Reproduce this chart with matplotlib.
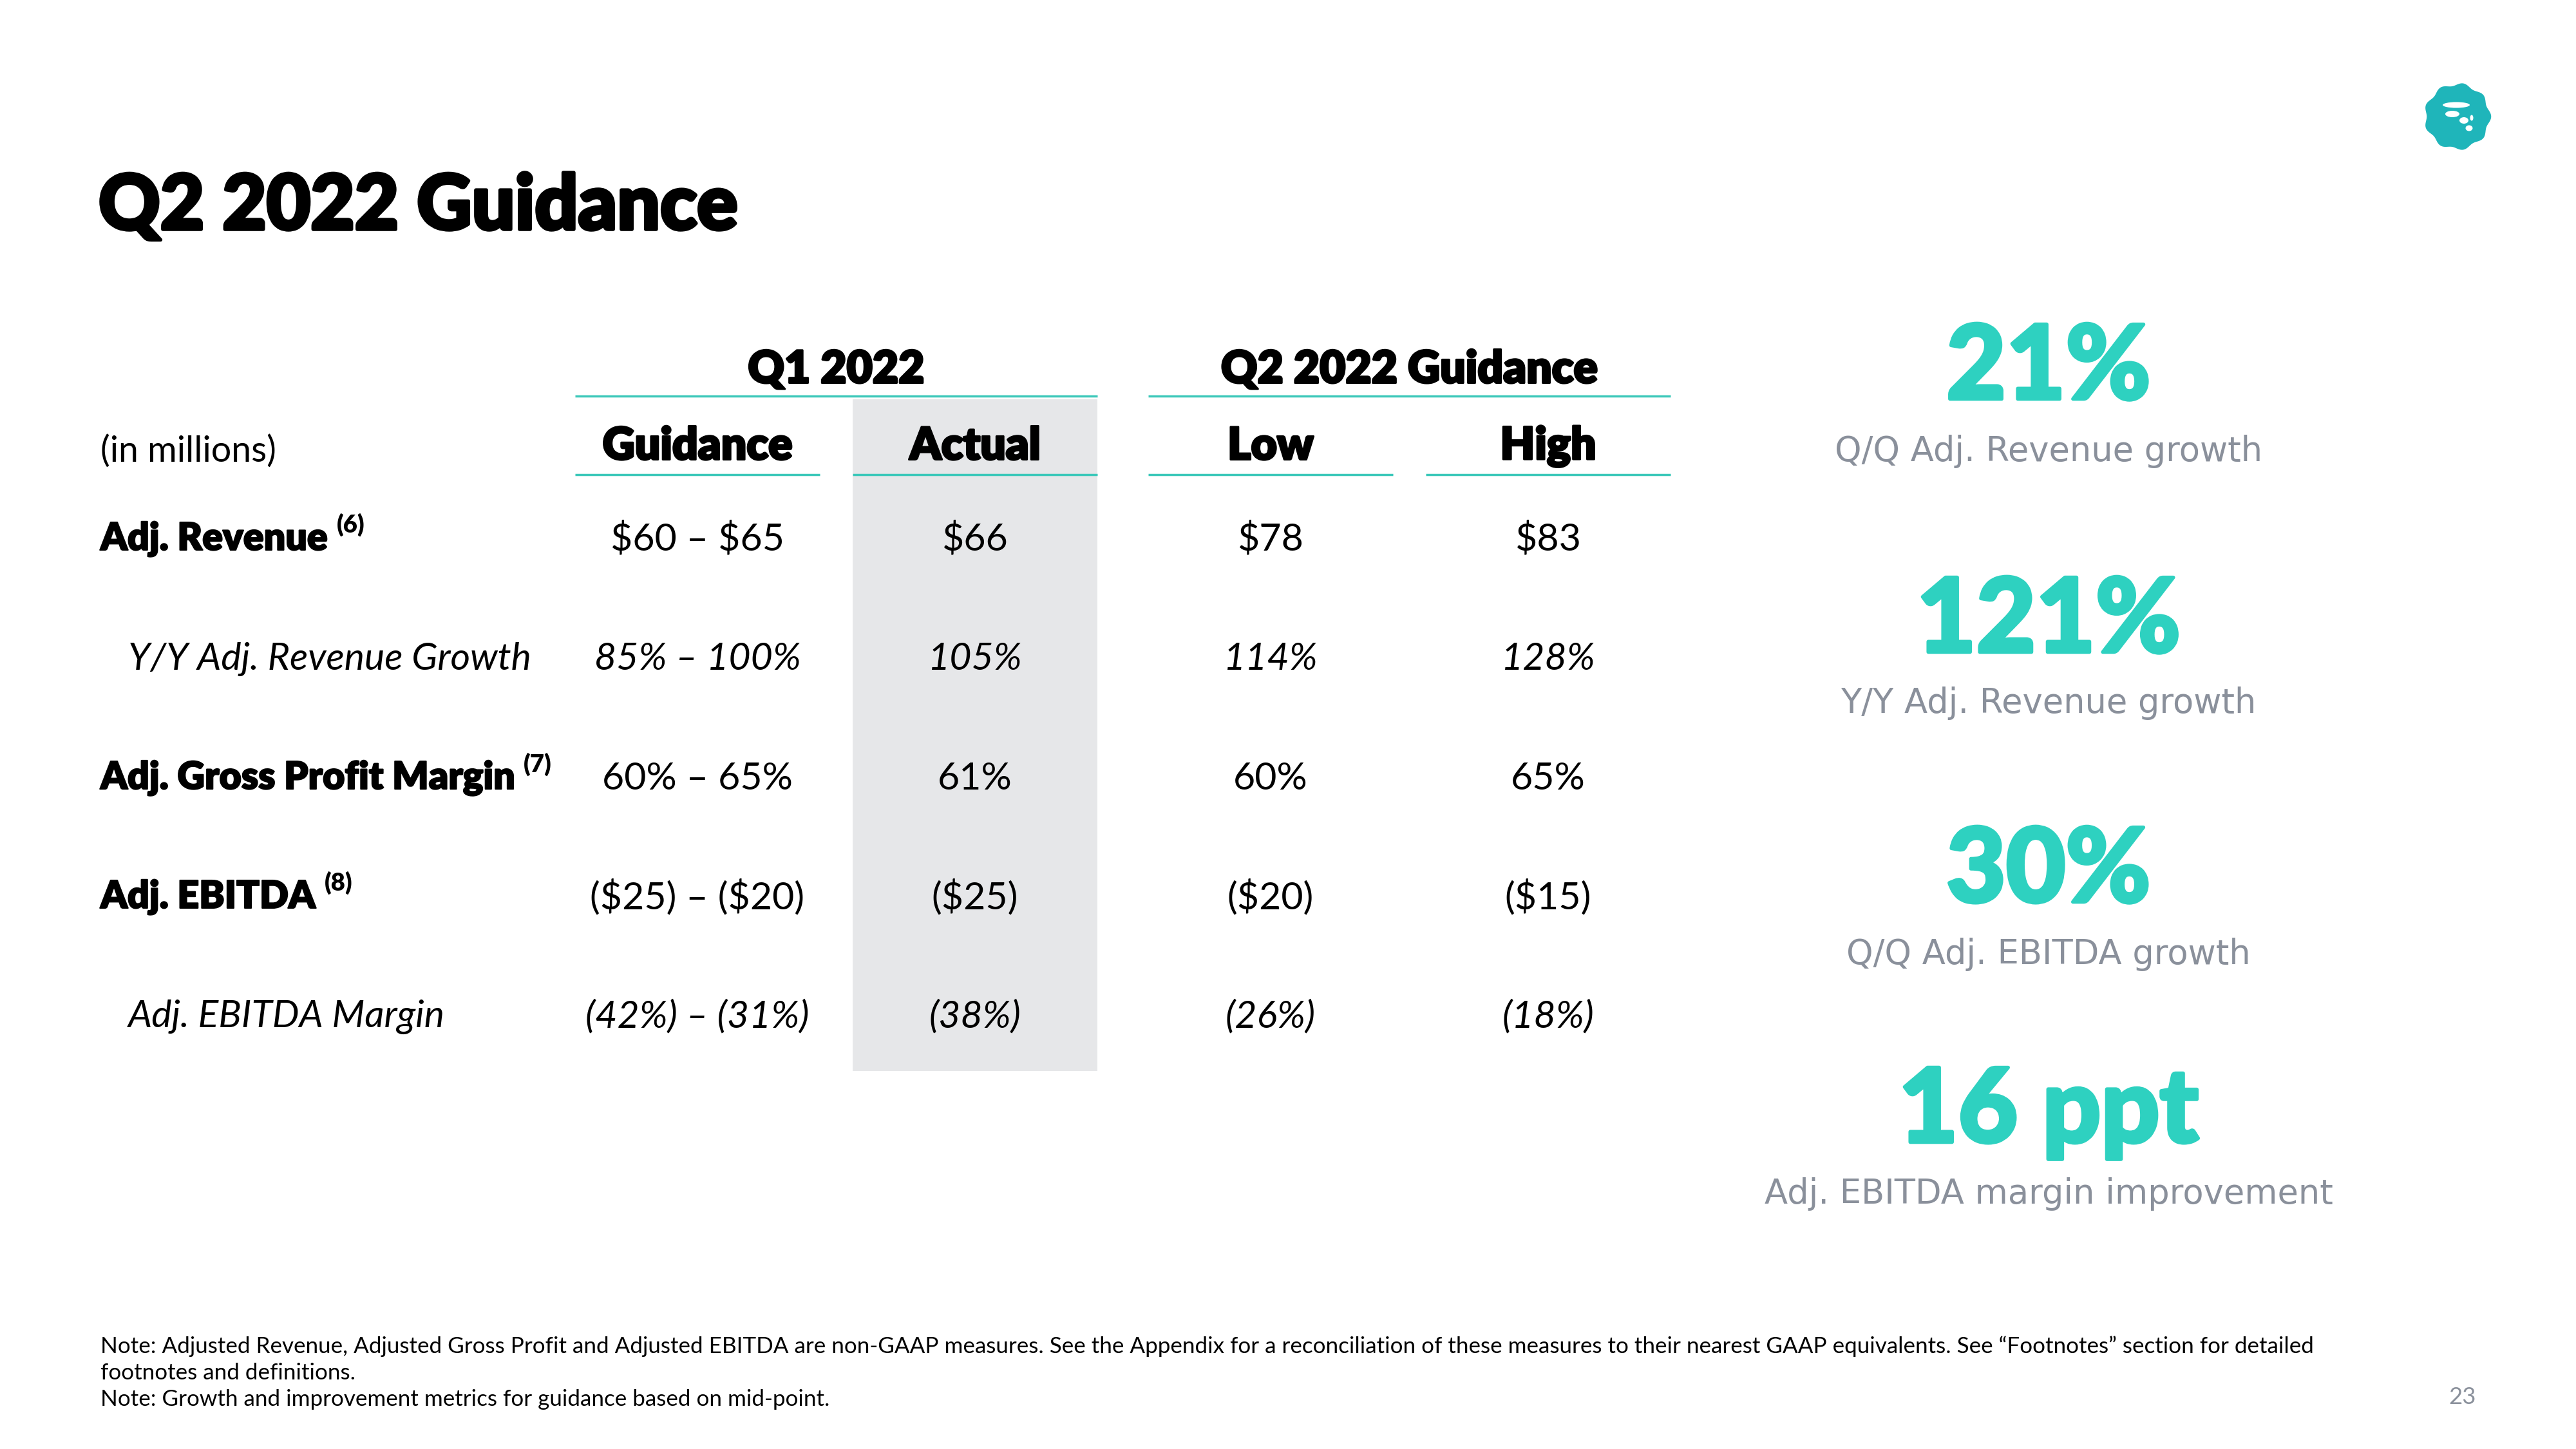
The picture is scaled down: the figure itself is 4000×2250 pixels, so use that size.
import numpy as np
import matplotlib.pyplot as plt
import matplotlib.patheffects as pe
from matplotlib.patches import Rectangle, Ellipse

# ---- data ----
title = "Q2 2022 Guidance"
unit_label = "(in millions)"
group_headers = ["Q1 2022", "Q2 2022 Guidance"]
col_headers = ["Guidance", "Actual", "Low", "High"]

row_labels = ["Adj. Revenue", "Y/Y Adj. Revenue Growth", "Adj. Gross Profit Margin",
              "Adj. EBITDA", "Adj. EBITDA Margin"]
row_notes = ["(6)", "", "(7)", "(8)", ""]
row_is_sub = [False, True, False, False, True]

q1_guidance = ["$60 – $65", "85% – 100%", "60% – 65%", "($25) – ($20)", "(42%) – (31%)"]
q1_actual = ["$66", "105%", "61%", "($25)", "(38%)"]
q2_low = ["$78", "114%", "60%", "($20)", "(26%)"]
q2_high = ["$83", "128%", "65%", "($15)", "(18%)"]

highlight_values = ["21%", "121%", "30%", "16 ppt"]
highlight_labels = ["Q/Q Adj. Revenue growth", "Y/Y Adj. Revenue growth",
                    "Q/Q Adj. EBITDA growth", "Adj. EBITDA margin improvement"]

note_lines = [
    "Note: Adjusted Revenue, Adjusted Gross Profit and Adjusted EBITDA are non-GAAP measures. "
    "See the Appendix for a reconciliation of these measures to their nearest GAAP equivalents. "
    "See \u201cFootnotes\u201d section for detailed",
    "footnotes and definitions.",
    "Note: Growth and improvement metrics for guidance based on mid-point.",
]
page_no = "23"

# ---- layout (pixel space of the 4000x2250 slide) ----
TEAL = "#2ED1C0"
LINE = "#3CC8BA"
GREY_TXT = "#8A909B"
BAND = "#E6E7E9"
FONT = "Lato"

col_left = [893, 1324, 1783, 2214]
col_w = 380
col_cx = [x + col_w / 2 for x in col_left]
row_y = [837, 1023, 1209, 1393, 1579]
header_y = 694
group_y = 575
group_line_y = 615
sub_line_y = 737


def heavy(width, color="black"):
    return [pe.withStroke(linewidth=width, foreground=color)]


fig = plt.figure(figsize=(16, 9), dpi=250)
ax = fig.add_axes([0, 0, 1, 1])
ax.set_xlim(0, 4000)
ax.set_ylim(2250, 0)
ax.axis("off")

# title
ax.text(153, 322, title, fontsize=34, fontweight="black", family=FONT,
        ha="left", va="center", color="black", path_effects=heavy(1.6))

# grey band behind Q1 actual
ax.add_patch(Rectangle((col_left[1], 620), col_w, 1663 - 620, color=BAND, zorder=0, lw=0))

# group headers with teal rules
for g, (a, b) in enumerate([(0, 1), (2, 3)]):
    x0, x1 = col_left[a], col_left[b] + col_w
    ax.text((x0 + x1) / 2, group_y, group_headers[g], fontsize=20, fontweight="heavy",
            family=FONT, ha="center", va="center", path_effects=heavy(0.9))
    ax.plot([x0, x1], [group_line_y, group_line_y], color=LINE, lw=1.0, solid_capstyle="butt")

for j, h in enumerate(col_headers):
    ax.text(col_cx[j], header_y, h, fontsize=20, fontweight="heavy", family=FONT,
            ha="center", va="center", path_effects=heavy(0.9))
    ax.plot([col_left[j], col_left[j] + col_w], [sub_line_y, sub_line_y], color=LINE, lw=1.0,
            solid_capstyle="butt")

ax.text(156, 701, unit_label, fontsize=16, family=FONT, ha="left", va="center")

fig.canvas.draw()
renderer = fig.canvas.get_renderer()
inv = ax.transData.inverted()

columns = [q1_guidance, q1_actual, q2_low, q2_high]
for i, lab in enumerate(row_labels):
    y = row_y[i]
    if row_is_sub[i]:
        ax.text(199, y, lab, fontsize=17, style="italic", family=FONT, ha="left", va="center")
    else:
        t = ax.text(156, y, lab, fontsize=17, fontweight="heavy", family=FONT,
                    ha="left", va="center", path_effects=heavy(0.6))
        if row_notes[i]:
            bb = t.get_window_extent(renderer)
            xr = inv.transform((bb.x1, bb.y1))[0]
            ax.text(xr + 14, y - 22, row_notes[i], fontsize=11, fontweight="heavy",
                    family=FONT, ha="left", va="center")
    for j, col in enumerate(columns):
        ax.text(col_cx[j], y, col[i], fontsize=17, family=FONT, parse_math=False,
                style="italic" if row_is_sub[i] else "normal", ha="center", va="center")

# highlight metrics on the right
hx = 3181
val_y = [573, 966, 1354, 1727]
lab_y = [701, 1092, 1482, 1854]
for v, l, vy, ly in zip(highlight_values, highlight_labels, val_y, lab_y):
    ax.text(hx, vy, v, fontsize=46, fontweight="black", family=FONT, color=TEAL,
            ha="center", va="center", path_effects=heavy(1.6, TEAL))
    ax.text(hx, ly, l, fontsize=15.2, family="DejaVu Sans", color=GREY_TXT,
            ha="center", va="center")

# footnotes
for k, line in enumerate(note_lines):
    ax.text(156, 2091 + 41 * k, line, fontsize=10.1, family=FONT, ha="left", va="center")
ax.text(3845, 2170, page_no, fontsize=10.5, family=FONT, color=GREY_TXT, ha="right", va="center")

# logo
cx, cy, R = 3816, 181, 50
th = np.linspace(0, 2 * np.pi, 500)
r = R * (1 + 0.045 * np.cos(9 * th))
ax.fill(cx + r * np.cos(th), cy + r * np.sin(th), color="#1FB5BA", lw=0)
ax.add_patch(Ellipse((cx - 2, cy - 18), 42, 9, color="white", lw=0))
ax.add_patch(Ellipse((cx - 8, cy - 4), 22, 10, color="white", lw=0))
ax.add_patch(Ellipse((cx + 10, cy + 6), 14, 10, color="white", lw=0))
ax.add_patch(Ellipse((cx + 18, cy + 18), 11, 9, color="white", lw=0))
ax.add_patch(Ellipse((cx + 22, cy + 2), 5, 9, color="white", lw=0))

fig.savefig("out.png", dpi=250, facecolor="white")
